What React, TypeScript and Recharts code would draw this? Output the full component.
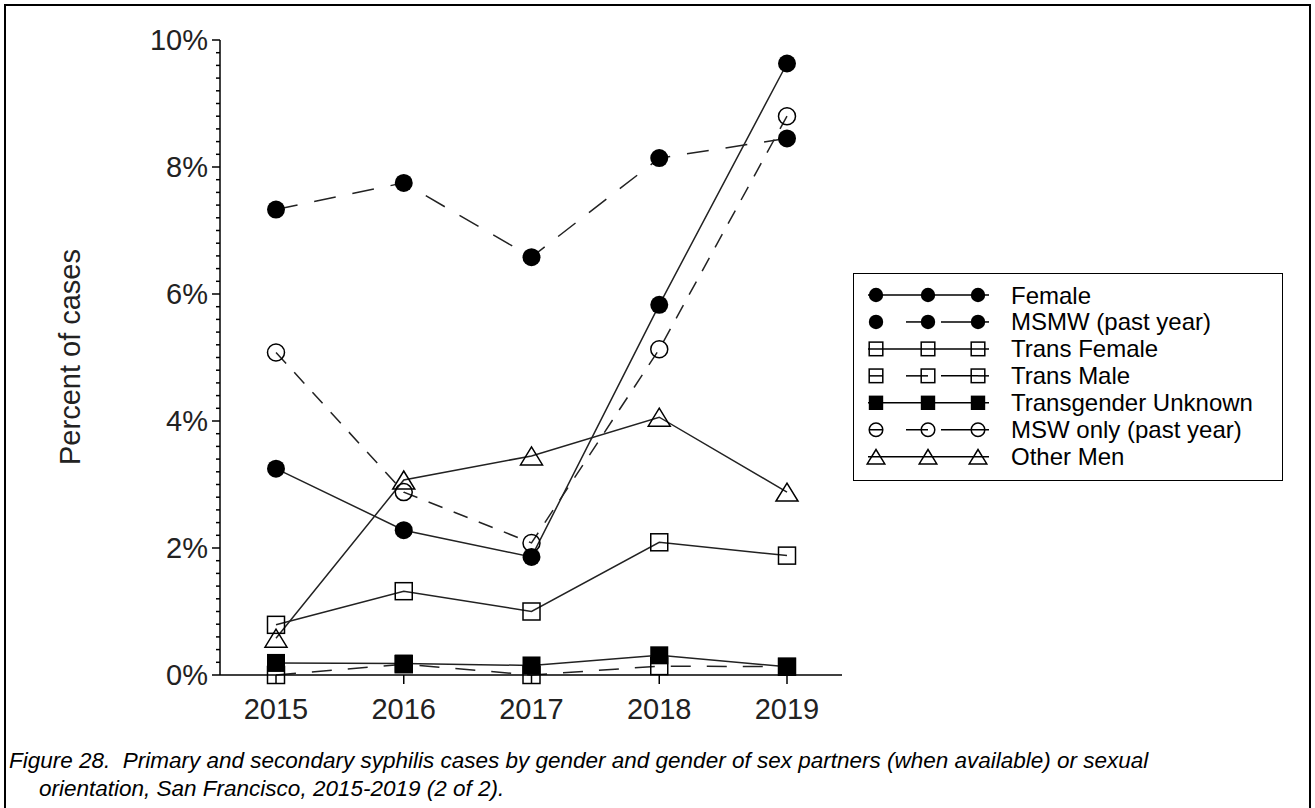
import React from 'react'
import { LineChart, Line, XAxis, YAxis, Legend } from 'recharts'

const years = ['2015', '2016', '2017', '2018', '2019']
const female = [3.25, 2.28, 1.86, 5.83, 9.63]
const msmw = [7.33, 7.75, 6.58, 8.14, 8.45]
const transFemale = [0.79, 1.32, 1.0, 2.09, 1.88]
const transMale = [0, 0.17, 0, 0.14, 0.13]
const transUnknown = [0.19, 0.18, 0.15, 0.31, 0.13]
const mswOnly = [5.08, 2.88, 2.08, 5.13, 8.8]
const otherMen = [0.58, 3.07, 3.45, 4.06, 2.88]

const majorTicks = [0, 2, 4, 6, 8, 10]
const yTicks = Array.from({ length: 51 }, (_, i) => Math.round(i * 2) / 10)

const FONT = '"Liberation Sans", Arial, sans-serif'

const data = years.map((year, i) => ({
  year,
  female: female[i],
  msmw: msmw[i],
  transFemale: transFemale[i],
  transMale: transMale[i],
  transUnknown: transUnknown[i],
  mswOnly: mswOnly[i],
  otherMen: otherMen[i],
}))

type MarkerType = 'circleFilled' | 'circleOpen' | 'squareOpen' | 'squareFilled' | 'triangle'

const series: { key: string; name: string; marker: MarkerType; dash?: string }[] = [
  { key: 'female', name: 'Female', marker: 'circleFilled' },
  { key: 'msmw', name: 'MSMW (past year)', marker: 'circleFilled', dash: '22 17' },
  { key: 'transFemale', name: 'Trans Female', marker: 'squareOpen' },
  { key: 'transMale', name: 'Trans Male', marker: 'squareOpen', dash: '20 16' },
  { key: 'transUnknown', name: 'Transgender Unknown', marker: 'squareFilled' },
  { key: 'mswOnly', name: 'MSW only (past year)', marker: 'circleOpen', dash: '15 12' },
  { key: 'otherMen', name: 'Other Men', marker: 'triangle' },
]

const Marker = ({ type, cx, cy, s = 1 }: { type: MarkerType; cx: number; cy: number; s?: number }) => {
  if (cx == null || cy == null) return null
  switch (type) {
    case 'circleFilled':
      return <circle cx={cx} cy={cy} r={9 * s} fill='#000' />
    case 'circleOpen':
      return <circle cx={cx} cy={cy} r={8.5 * s} fill='none' stroke='#000' strokeWidth={1.5} />
    case 'squareOpen':
      return <rect x={cx - 8.5 * s} y={cy - 8.5 * s} width={17 * s} height={17 * s} fill='none' stroke='#000' strokeWidth={1.5} />
    case 'squareFilled':
      return <rect x={cx - 9 * s} y={cy - 9 * s} width={18 * s} height={18 * s} fill='#000' />
    case 'triangle': {
      const w = 11 * s
      const h = 9 * s
      return (
        <polygon
          points={`${cx - w},${cy + h} ${cx + w},${cy + h} ${cx},${cy - h}`}
          fill='none'
          stroke='#000'
          strokeWidth={1.5}
        />
      )
    }
  }
  return null
}

const YTick = ({ x, y, payload }: any) => {
  const v = payload.value
  const major = majorTicks.includes(v)
  return (
    <g>
      <line x1={x - (major ? 8 : 4)} x2={x} y1={y} y2={y} stroke='#000' strokeWidth={1.5} />
      {major && (
        <text x={x - 12} y={y} textAnchor='end' dominantBaseline='central' fontSize={29} fill='#222' fontFamily={FONT}>
          {v}%
        </text>
      )}
    </g>
  )
}

const renderLegend = () => {
  const rowH = 26.95
  const mx = [22, 74, 124]
  return (
    <div style={{ width: 430, height: 208, border: '1.5px solid #000', boxSizing: 'border-box', background: '#fff' }}>
      <svg width={427} height={205} style={{ display: 'block' }}>
        {series.map((s, i) => {
          const cy = 21 + i * rowH
          return (
            <g key={s.key}>
              {s.dash ? (
                <>
                  <line x1={mx[0] - 7} x2={mx[0] + 7} y1={cy} y2={cy} stroke='#000' strokeWidth={1.5} />
                  <line x1={52} x2={mx[1]} y1={cy} y2={cy} stroke='#000' strokeWidth={1.5} />
                  <line x1={87} x2={mx[2]} y1={cy} y2={cy} stroke='#000' strokeWidth={1.5} />
                  <line x1={mx[2]} x2={135} y1={cy} y2={cy} stroke='#000' strokeWidth={1.5} />
                </>
              ) : (
                <line x1={14} x2={135} y1={cy} y2={cy} stroke='#000' strokeWidth={1.5} />
              )}
              {mx.map((x) => (
                <Marker key={x} type={s.marker} cx={x} cy={cy} s={0.8} />
              ))}
              <text x={157} y={cy} dominantBaseline='central' fontSize={24} fill='#000' fontFamily={FONT}>
                {s.name}
              </text>
            </g>
          )
        })}
      </svg>
    </div>
  )
}

export default function App() {
  return (
    <div style={{ position: 'absolute', left: 0, top: 0, width: 1315, height: 808, background: '#fff', overflow: 'hidden', fontFamily: FONT }}>
      <div style={{ position: 'absolute', left: 4, top: 4, width: 1307, height: 830, border: '2px solid #000', boxSizing: 'border-box' }} />
      <div style={{ position: 'absolute', left: 0, top: 0 }}>
        <LineChart width={1315} height={808} data={data} margin={{ top: 40, right: 473, bottom: 73, left: 140 }}>
          <XAxis
            dataKey='year'
            interval={0}
            padding={{ left: 56, right: 55 }}
            height={60}
            tickSize={9}
            tickMargin={14}
            axisLine={{ stroke: '#000', strokeWidth: 1.5 }}
            tickLine={{ stroke: '#000', strokeWidth: 1.5 }}
            tick={{ fontSize: 29, fill: '#222', fontFamily: FONT }}
          />
          <XAxis xAxisId='top' dataKey='year' orientation='top' height={0} tick={false} tickLine={false} axisLine={{ stroke: '#000', strokeWidth: 1.5 }} />
          <YAxis
            width={80}
            domain={[0, 10]}
            ticks={yTicks}
            interval={0}
            tickSize={0}
            tickMargin={0}
            tickLine={false}
            tick={<YTick />}
            axisLine={{ stroke: '#000', strokeWidth: 1.5 }}
          />
          <YAxis yAxisId='right' orientation='right' width={0} domain={[0, 10]} tick={false} tickLine={false} axisLine={{ stroke: '#000', strokeWidth: 1.5 }} />
          <Legend layout='vertical' align='center' verticalAlign='middle' content={renderLegend} wrapperStyle={{ left: 853, top: 273, width: 430, height: 208 }} />
          {series.map((s) => (
            <Line
              key={s.key}
              dataKey={s.key}
              name={s.name}
              stroke='#222'
              strokeWidth={1.5}
              strokeDasharray={s.dash}
              isAnimationActive={false}
              activeDot={false}
              dot={(p: any) => <Marker key={`${s.key}-${p.index}`} type={s.marker} cx={p.cx} cy={p.cy} />}
            />
          ))}
        </LineChart>
      </div>
      <div
        style={{
          position: 'absolute',
          left: 70,
          top: 357,
          transform: 'translate(-50%, -50%) rotate(-90deg)',
          fontSize: 29,
          color: '#222',
          whiteSpace: 'nowrap',
        }}
      >
        Percent of cases
      </div>
      <div style={{ position: 'absolute', left: 9, top: 747, fontSize: 22.5, fontStyle: 'italic', lineHeight: '28px', color: '#000', whiteSpace: 'nowrap' }}>
        <div>Figure 28.&nbsp; Primary and secondary syphilis cases by gender and gender of sex partners (when available) or sexual</div>
        <div style={{ paddingLeft: 30 }}>orientation, San Francisco, 2015-2019 (2 of 2).</div>
      </div>
    </div>
  )
}
